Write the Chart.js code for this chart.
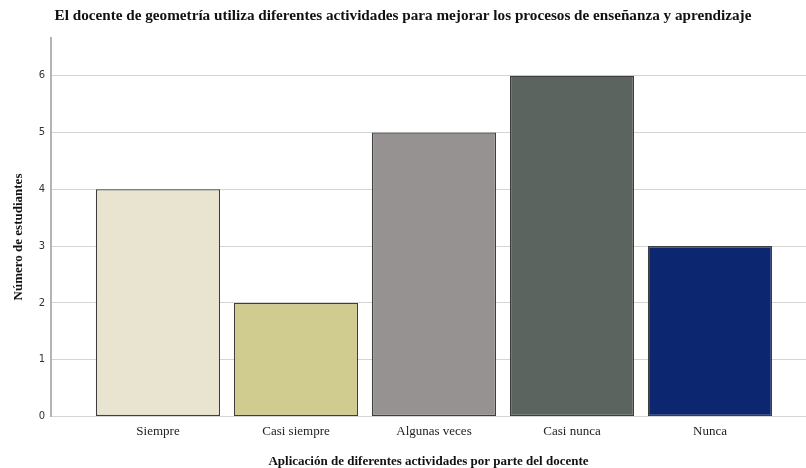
<!DOCTYPE html>
<html lang="es">
<head>
<meta charset="utf-8">
<title>Actividades del docente de geometría</title>
<script src="https://cdn.jsdelivr.net/npm/chart.js@4/dist/chart.umd.min.js"></script>
<style>
  html, body { margin: 0; padding: 0; background: #ffffff; }
  #wrap { width: 806px; height: 468px; }
</style>
</head>
<body>
<div id="wrap"><canvas id="chart" width="806" height="468"></canvas></div>
<script>
// Respuestas de los estudiantes por categoría
const categories = ['Siempre', 'Casi siempre', 'Algunas veces', 'Casi nunca', 'Nunca'];
const counts = [4, 2, 5, 6, 3];
const yTicks = [0, 1, 2, 3, 4, 5, 6];

const barColors = ['#e9e4cf', '#d0cb8e', '#969291', '#5b645e', '#0c2770'];

const serif = '"Liberation Serif", "Times New Roman", serif';
const sans = '"DejaVu Sans", Arial, sans-serif';
const yTitleText = 'Número de estudiantes';

const points = categories.map((c, i) => ({ x: i + 1, y: counts[i] }));

// Vertical axis title, drawn a little below the middle of the plot
const yTitlePlugin = {
  id: 'yTitle',
  afterDraw(chart) {
    const ctx = chart.ctx;
    ctx.save();
    ctx.translate(19, 237);
    ctx.rotate(-Math.PI / 2);
    ctx.font = 'bold 13px ' + serif;
    ctx.fillStyle = '#111111';
    ctx.textAlign = 'center';
    ctx.textBaseline = 'middle';
    ctx.fillText(yTitleText, 0, 0);
    ctx.restore();
  }
};

new Chart(document.getElementById('chart'), {
  type: 'bar',
  data: {
    datasets: [{
      data: points,
      backgroundColor: barColors,
      borderColor: '#3e3e3e',
      borderWidth: 1.3,
      borderSkipped: false,
      categoryPercentage: 1,
      barPercentage: 0.9
    }]
  },
  plugins: [yTitlePlugin],
  options: {
    responsive: false,
    animation: false,
    layout: { padding: 0 },
    plugins: {
      legend: { display: false },
      tooltip: { enabled: false },
      title: {
        display: true,
        text: 'El docente de geometría utiliza diferentes actividades para mejorar los procesos de enseñanza y aprendizaje',
        color: '#111111',
        font: { family: serif, size: 15.2, weight: 'bold', lineHeight: 1.2 },
        padding: { top: 7, bottom: 13 }
      }
    },
    scales: {
      x: {
        type: 'linear',
        offset: false,
        min: 0.2246,
        max: 5.696,
        afterBuildTicks: (scale) => {
          scale.ticks = categories.map((c, i) => ({ value: i + 1 }));
        },
        afterFit: (scale) => { scale.height = 51.5; },
        grid: { display: false, drawTicks: false },
        border: { display: false },
        ticks: {
          padding: 7,
          color: '#222222',
          font: { family: serif, size: 13, lineHeight: 1.2 },
          callback: (v) => categories[v - 1] || ''
        },
        title: {
          display: true,
          text: 'Aplicación de diferentes actividades por parte del docente',
          color: '#111111',
          font: { family: serif, size: 13, weight: 'bold', lineHeight: 1 },
          padding: { top: 0, bottom: 0 }
        }
      },
      y: {
        min: 0,
        max: 6.66,
        afterBuildTicks: (scale) => {
          scale.ticks = yTicks.map(v => ({ value: v }));
        },
        afterFit: (scale) => { scale.width = 51; },
        grid: { color: '#d4d4d4', lineWidth: 1, drawTicks: false },
        border: { display: true, color: '#b4b4b4', width: 2 },
        ticks: {
          padding: 6,
          color: '#333333',
          font: { family: sans, size: 10 }
        }
      }
    }
  }
});
</script>
</body>
</html>
